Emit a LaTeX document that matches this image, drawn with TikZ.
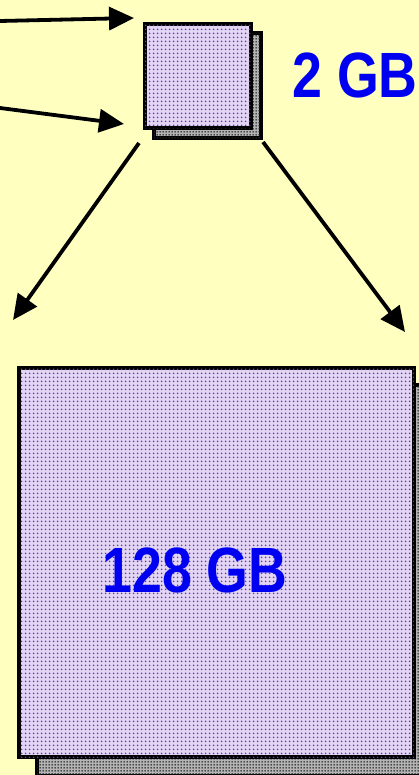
\documentclass[tikz,border=0pt]{standalone}
\usepackage{fontspec}
\setmainfont{Liberation Sans}
\usetikzlibrary{arrows.meta,patterns}
\definecolor{paper}{HTML}{FFFFC0}
\definecolor{chipfill}{HTML}{E2D6F4}
\definecolor{chipdot}{HTML}{6C3AA6}
\definecolor{shadefill}{HTML}{B4B4B4}
\definecolor{labelblue}{HTML}{0000F0}
% halftone dot screens for the module faces
\pgfdeclarepatternformonly{halftone}{\pgfqpoint{0pt}{0pt}}{\pgfqpoint{4pt}{4pt}}{\pgfqpoint{4pt}{4pt}}{%
  \pgfpathcircle{\pgfqpoint{2pt}{2pt}}{1.15pt}\pgfusepath{fill}}
\pgfdeclarepatternformonly{finescreen}{\pgfqpoint{0pt}{0pt}}{\pgfqpoint{3pt}{3pt}}{\pgfqpoint{3pt}{3pt}}{%
  \pgfpathcircle{\pgfqpoint{1.5pt}{1.5pt}}{1.05pt}\pgfusepath{fill}}
\tikzset{
  chip/.style={draw=black, line width=4.2pt, fill=chipfill, postaction={pattern=halftone, pattern color=chipdot}, inner sep=0pt, anchor=north west},
  chipshadow/.style={draw=black, line width=4.2pt, fill=shadefill, postaction={pattern=finescreen, pattern color=black!85}, inner sep=0pt, anchor=north west},
  link/.style={line width=3.8pt, -{Triangle[length=25pt,width=23pt]}},
  sizelabel/.style={text=labelblue, font=\bfseries\fontsize{64}{64}\selectfont, xscale=0.84, inner sep=0pt}
}
\begin{document}
\begin{tikzpicture}[x=1pt,y=-1pt]
  \useasboundingbox[fill=paper] (0,0) rectangle (419,775);
  % small module with its shadow
  \node[chipshadow, minimum width=107pt, minimum height=105pt] (smallsh) at (152,31) {};
  \node[chip, minimum width=106pt, minimum height=104pt] (small) at (143,22) {};
  \node[sizelabel] (smalllbl) at (355,75) {2 GB};
  % large module with its shadow
  \clip (0,0) rectangle (419,775);
  \node[chipshadow, minimum width=400pt, minimum height=391pt] (bigsh) at (35,383) {};
  \node[chip, minimum width=395pt, minimum height=389pt] (big) at (17,366) {};
  \node[sizelabel] (biglbl) at (195,570) {128 GB};
  % connectors
  \coordinate (inA) at (0,21);
  \coordinate (inB) at (0,108);
  \coordinate (tipA) at (134,18);
  \coordinate (tipB) at (124,124);
  \coordinate (outL0) at (139,143);
  \coordinate (outR0) at (263,142);
  \coordinate (outL) at (13,320);
  \coordinate (outR) at (405,332);
  \draw[link] (inA) -- (tipA);
  \draw[link] (inB) -- (tipB);
  \draw[link] (outL0) -- (outL);
  \draw[link] (outR0) -- (outR);
\end{tikzpicture}
\end{document}
